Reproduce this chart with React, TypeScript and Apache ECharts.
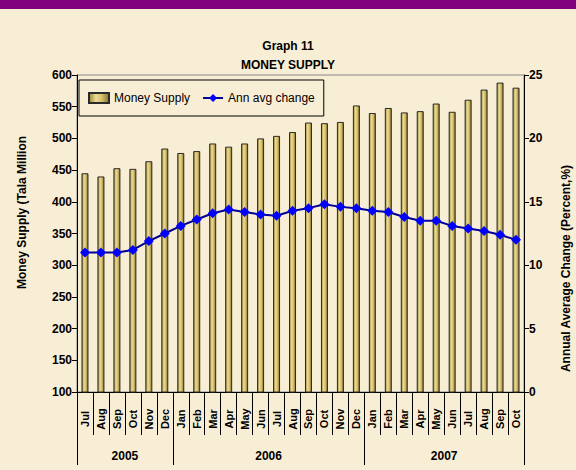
import React, { useEffect, useRef } from "react";
import * as echarts from "echarts";

const months = ["Jul","Aug","Sep","Oct","Nov","Dec","Jan","Feb","Mar","Apr","May","Jun","Jul","Aug","Sep","Oct","Nov","Dec","Jan","Feb","Mar","Apr","May","Jun","Jul","Aug","Sep","Oct"];
const yearLabels = ["2005", "2006", "2007"];
const monthsPerYear = [6, 12, 10];
const moneySupply = [445,440,453,452,464,484,477,480,492,487,492,500,504,510,525,524,526,552,540,548,541,543,555,542,561,577,588,580];
const annAvgChange = [11.0,11.0,11.0,11.2,11.9,12.5,13.1,13.6,14.1,14.4,14.2,14.0,13.9,14.3,14.5,14.8,14.6,14.5,14.3,14.2,13.8,13.5,13.5,13.1,12.9,12.7,12.4,12.0];
const leftTicks = { min: 100, max: 600, interval: 50 };
const rightTicks = { min: 0, max: 25, interval: 5 };

const FONT = "'Liberation Sans', Arial, sans-serif";

export default function App() {
  const ref = useRef<HTMLDivElement>(null);
  useEffect(() => {
    document.body.style.margin = "0";
    if (!ref.current) return;
    const chart = echarts.init(ref.current, undefined, { renderer: "svg" });
    const barGradient = new echarts.graphic.LinearGradient(0, 0, 1, 0, [
      { offset: 0, color: "#9a8636" },
      { offset: 0.35, color: "#eadc96" },
      { offset: 0.65, color: "#d4bf68" },
      { offset: 1, color: "#857130" },
    ]);
    const option: any = {
      animation: false,
      backgroundColor: "#f8eed5",
      textStyle: { fontFamily: FONT },
      title: {
        text: "Graph 11\nMONEY SUPPLY",
        left: "center",
        top: 31,
        textStyle: { fontSize: 12, fontWeight: "bold", color: "#000", lineHeight: 19, fontFamily: FONT },
      },
      legend: {
        orient: "horizontal",
        left: 79,
        top: 80,
        padding: [12, 9, 12, 9],
        itemGap: 12,
        itemWidth: 20,
        itemHeight: 10,
        borderColor: "#000",
        borderWidth: 1,
        textStyle: { fontSize: 12, color: "#000", fontFamily: FONT },
        data: [{ name: "Money Supply", icon: "rect" }, { name: "Ann avg change" }],
      },
      grid: {
        left: 77,
        right: 52,
        top: 75,
        bottom: 78,
        show: true,
        borderColor: "#888",
        borderWidth: 1,
        backgroundColor: "transparent",
      },
      xAxis: {
        type: "category",
        data: months,
        boundaryGap: true,
        axisLine: { lineStyle: { color: "#000", width: 1 } },
        axisTick: { show: true, interval: 0, length: 43, lineStyle: { color: "#000" } },
        axisLabel: {
          interval: 0,
          rotate: 90,
          align: "center",
          margin: 27,
          fontSize: 11,
          fontWeight: "bold",
          color: "#000",
          fontFamily: FONT,
        },
      },
      yAxis: [
        {
          type: "value",
          ...leftTicks,
          position: "left",
          axisLine: { show: true, lineStyle: { color: "#000" } },
          axisTick: { show: true, length: 5, lineStyle: { color: "#000" } },
          splitLine: { show: false },
          axisLabel: { fontSize: 12, fontWeight: "bold", color: "#000", margin: 5, fontFamily: FONT },
        },
        {
          type: "value",
          ...rightTicks,
          position: "right",
          axisLine: { show: true, lineStyle: { color: "#000" } },
          axisTick: { show: true, length: 5, lineStyle: { color: "#000" } },
          splitLine: { show: false },
          axisLabel: { fontSize: 12, fontWeight: "bold", color: "#000", margin: 5, fontFamily: FONT },
        },
      ],
      series: [
        {
          name: "Money Supply",
          type: "bar",
          data: moneySupply,
          barWidth: 7,
          itemStyle: { color: barGradient, borderColor: "#2a2a2a", borderWidth: 1 },
        },
        {
          name: "Ann avg change",
          type: "line",
          yAxisIndex: 1,
          data: annAvgChange,
          symbol: "diamond",
          symbolSize: 10,
          itemStyle: { color: "#0000ff" },
          lineStyle: { color: "#000090", width: 2 },
          z: 5,
        },
      ],
    };
    chart.setOption(option);

    // Year grouping below month labels, positioned via the axis scales
    const c0 = chart.convertToPixel({ xAxisIndex: 0 }, 0) as number;
    const c1 = chart.convertToPixel({ xAxisIndex: 0 }, 1) as number;
    const band = c1 - c0;
    const axisY = chart.convertToPixel({ yAxisIndex: 0 }, leftTicks.min) as number;
    const topY = chart.convertToPixel({ yAxisIndex: 0 }, leftTicks.max) as number;
    const bottomY = 465;
    const graphics: any[] = [
      { type: "rect", shape: { x: 0, y: 0, width: 576, height: 9 }, style: { fill: "#82007e" }, z: 10 },
    ];
    let start = 0;
    const boundaries: number[] = [c0 - band / 2];
    monthsPerYear.forEach((n, i) => {
      const x0 = c0 + (start - 0.5) * band;
      const x1 = c0 + (start + n - 0.5) * band;
      boundaries.push(x1);
      graphics.push({
        type: "text",
        x: (x0 + x1) / 2,
        y: 456,
        style: { text: yearLabels[i], fontSize: 12, fontWeight: "bold", fill: "#000", align: "center", verticalAlign: "middle", fontFamily: FONT },
      });
      start += n;
    });
    boundaries.forEach((bx) => {
      graphics.push({
        type: "line",
        shape: { x1: Math.round(bx) + 0.5, y1: axisY, x2: Math.round(bx) + 0.5, y2: bottomY },
        style: { stroke: "#000", lineWidth: 1 },
      });
    });
    const midY = (topY + axisY) / 2;
    graphics.push({
      type: "text",
      x: 22,
      y: midY - 21,
      rotation: Math.PI / 2,
      style: { text: "Money Supply (Tala Million", fontSize: 12, fontWeight: "bold", fill: "#000", align: "center", verticalAlign: "middle", fontFamily: FONT },
    });
    graphics.push({
      type: "text",
      x: 566,
      y: midY + 35,
      rotation: Math.PI / 2,
      style: { text: "Annual Average Change (Percent,%)", fontSize: 12, fontWeight: "bold", fill: "#000", align: "center", verticalAlign: "middle", fontFamily: FONT },
    });
    chart.setOption({ graphic: graphics });

    return () => chart.dispose();
  }, []);
  return <div ref={ref} style={{ width: 576, height: 470 }} />;
}
